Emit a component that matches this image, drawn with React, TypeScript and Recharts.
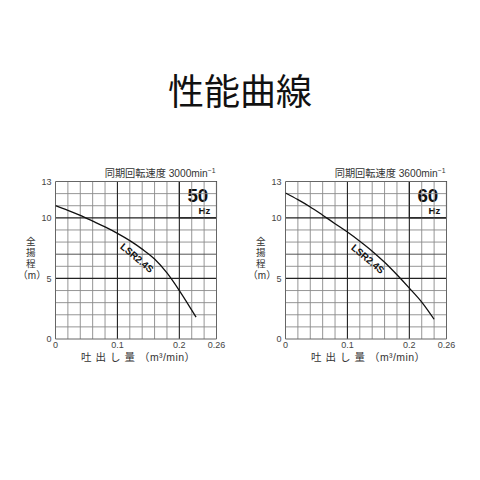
import React from 'react';
import { LineChart, Line, XAxis, YAxis, ReferenceLine, ReferenceArea, ReferenceDot } from 'recharts';

// 50Hz curve (flow m3/min, head m)
const flow50 = [0, 0.02, 0.04, 0.06, 0.08, 0.1, 0.12, 0.14, 0.16, 0.18, 0.2, 0.227];
const head50 = [11.0, 10.62, 10.2, 9.73, 9.25, 8.72, 8.12, 7.42, 6.6, 5.45, 4.0, 1.8];
// 60Hz curve
const flow60 = [0, 0.02, 0.04, 0.06, 0.08, 0.1, 0.12, 0.14, 0.16, 0.18, 0.2, 0.22, 0.24];
const head60 = [12.05, 11.5, 10.9, 10.22, 9.52, 8.83, 8.07, 7.25, 6.33, 5.3, 4.2, 3.05, 1.63];

const xTicks = [0, 0.1, 0.2, 0.26];
const yTicks = [0, 5, 10, 13];
const xMinorGrid = [0.02, 0.04, 0.06, 0.08, 0.12, 0.14, 0.16, 0.18, 0.22, 0.24];
const xMajorGrid = [0.1, 0.2];
const yMinorGrid = [1, 2, 3, 4, 6, 8, 9, 11, 12];
const yMidGrid = [7];
const yMajorGrid = [5, 10];

const freqLabels = ['50', '60'];
const speedLabels = ['同期回転速度 3000min', '同期回転速度 3600min'];
const modelName = 'LSR2.4S';
const titleText = '性能曲線';
const yLabelChars = ['全', '揚', '程'];
const yLabelUnit = '（m）';
const xLabelMain = '吐出し量';
const xLabelUnit = '（m³/min）';

const FONT = "'Liberation Sans', 'Noto Sans CJK JP', sans-serif";
const CJK = "'Noto Sans CJK JP', sans-serif";

type PanelProps = {
  flow: number[];
  head: number[];
  freq: string;
  speed: string;
  left: number;
  labelAt: [number, number];
};

const Panel = ({ flow, head, freq, speed, left, labelAt }: PanelProps) => {
  const data = flow.map((q, i) => ({ q, h: head[i] }));

  const hzBox = (props: any) => {
    const vb = props.viewBox || {};
    const x = vb.x;
    const y = vb.y;
    return (
      <g>
        <text x={x + 18.5} y={y + 20.6} textAnchor="middle" fontSize={18.8} fontWeight="bold" fill="#111" fontFamily={FONT}>
          {freq}
        </text>
        <text x={x + 31} y={y + 32.6} textAnchor="end" fontSize={9.6} fontWeight="bold" fill="#111" fontFamily={FONT}>
          Hz
        </text>
      </g>
    );
  };

  const speedLabel = (props: any) => {
    const vb = props.viewBox || {};
    return (
      <text x={vb.x + vb.width - 1} y={vb.y - 5} textAnchor="end" fontSize={10.2} fill="#333" fontFamily={FONT}>
        {speed}
        <tspan fontSize={6.8} dy={-3.6}>−1</tspan>
      </text>
    );
  };

  const modelLabel = (props: any) => {
    const vb = props.viewBox || {};
    const cx = vb.x + (vb.width || 0) / 2;
    const cy = vb.y + (vb.height || 0) / 2;
    return (
      <text
        x={cx}
        y={cy}
        dy="0.35em"
        textAnchor="middle"
        fontSize={9.8}
        fontWeight="bold"
        fill="#111"
        fontFamily={FONT}
        transform={`rotate(40 ${cx} ${cy})`}
      >
        {modelName}
      </text>
    );
  };

  // y-axis title, drawn as the label of the left border line (chart coordinates)
  const yLabel = () => (
    <g>
      {yLabelChars.map((c, i) => (
        <text key={i} x={30.7} y={85.2 + i * 10.9} textAnchor="middle" fontFamily={CJK} fontSize={9.6} fill="#333">
          {c}
        </text>
      ))}
      <text x={32} y={119} textAnchor="middle" fontFamily={FONT} fontSize={10} fill="#333">
        {yLabelUnit}
      </text>
    </g>
  );

  // x-axis title, drawn as the label of the bottom border line
  const xLabel = () => (
    <text x={81} y={201} fontFamily={FONT} fontSize={10.5} fill="#333">
      <tspan letterSpacing={4}>{xLabelMain}</tspan>
      <tspan letterSpacing={0.4}>{xLabelUnit}</tspan>
    </text>
  );

  return (
    <div style={{ position: 'absolute', left, top: 160 }}>
      <LineChart width={230} height={220} data={data} margin={{ top: 21.5, right: 13.5, bottom: 21, left: 35.5 }}>
        <XAxis
          type="number"
          dataKey="q"
          domain={[0, 0.26]}
          ticks={xTicks}
          interval={0}
          tickLine={false}
          axisLine={false}
          tickSize={0}
          tickMargin={3}
          height={20}
          allowDataOverflow
          tick={{ fontSize: 9, fill: '#444', fontFamily: FONT }}
          tickFormatter={(v: number) => String(v)}
        />
        <YAxis
          type="number"
          domain={[0, 13]}
          ticks={yTicks}
          interval={0}
          tickLine={false}
          axisLine={false}
          tickSize={0}
          tickMargin={4}
          width={20}
          allowDataOverflow
          tick={{ fontSize: 9, fill: '#444', fontFamily: FONT }}
        />
        {xMinorGrid.map((v) => (
          <ReferenceLine key={'xm' + v} x={v} stroke="#8a8a8a" strokeWidth={0.9} />
        ))}
        {yMinorGrid.map((v) => (
          <ReferenceLine key={'ym' + v} y={v} stroke="#8a8a8a" strokeWidth={0.9} />
        ))}
        {yMidGrid.map((v) => (
          <ReferenceLine key={'yd' + v} y={v} stroke="#555" strokeWidth={1} />
        ))}
        {xMajorGrid.map((v) => (
          <ReferenceLine key={'xM' + v} x={v} stroke="#222" strokeWidth={1.1} />
        ))}
        {yMajorGrid.map((v) => (
          <ReferenceLine key={'yM' + v} y={v} stroke="#222" strokeWidth={1.1} />
        ))}
        <ReferenceLine x={0} stroke="#666" strokeWidth={1} ifOverflow="extendDomain" label={{ content: yLabel }} />
        <ReferenceLine x={0.26} stroke="#666" strokeWidth={1} ifOverflow="extendDomain" />
        <ReferenceLine y={0} stroke="#666" strokeWidth={1} ifOverflow="extendDomain" label={{ content: xLabel }} />
        <ReferenceLine y={13} stroke="#666" strokeWidth={1} ifOverflow="extendDomain" label={{ content: speedLabel }} />
        <ReferenceArea x1={0.2} x2={0.26} y1={10} y2={13} fill="#fff" fillOpacity={1} stroke="#111" strokeWidth={1.1} label={{ content: hzBox }} />
        <ReferenceDot x={labelAt[0]} y={labelAt[1]} r={1} fill="none" stroke="none" label={{ content: modelLabel }} />
        <Line type="monotone" dataKey="h" stroke="#111" strokeWidth={1.3} dot={false} isAnimationActive={false} />
      </LineChart>
    </div>
  );
};

export default function App() {
  return (
    <div style={{ position: 'absolute', left: 0, top: 0, width: 480, height: 480, background: '#fff' }}>
      <svg width={480} height={130} style={{ position: 'absolute', left: 0, top: 0 }}>
        <text x={240} y={104.7} textAnchor="middle" fontSize={36} fill="#111" fontFamily={CJK}>
          {titleText}
        </text>
      </svg>
      <Panel flow={flow50} head={head50} freq={freqLabels[0]} speed={speedLabels[0]} left={0} labelAt={[0.1316, 6.7]} />
      <Panel flow={flow60} head={head60} freq={freqLabels[1]} speed={speedLabels[1]} left={230} labelAt={[0.133, 6.62]} />
    </div>
  );
}
